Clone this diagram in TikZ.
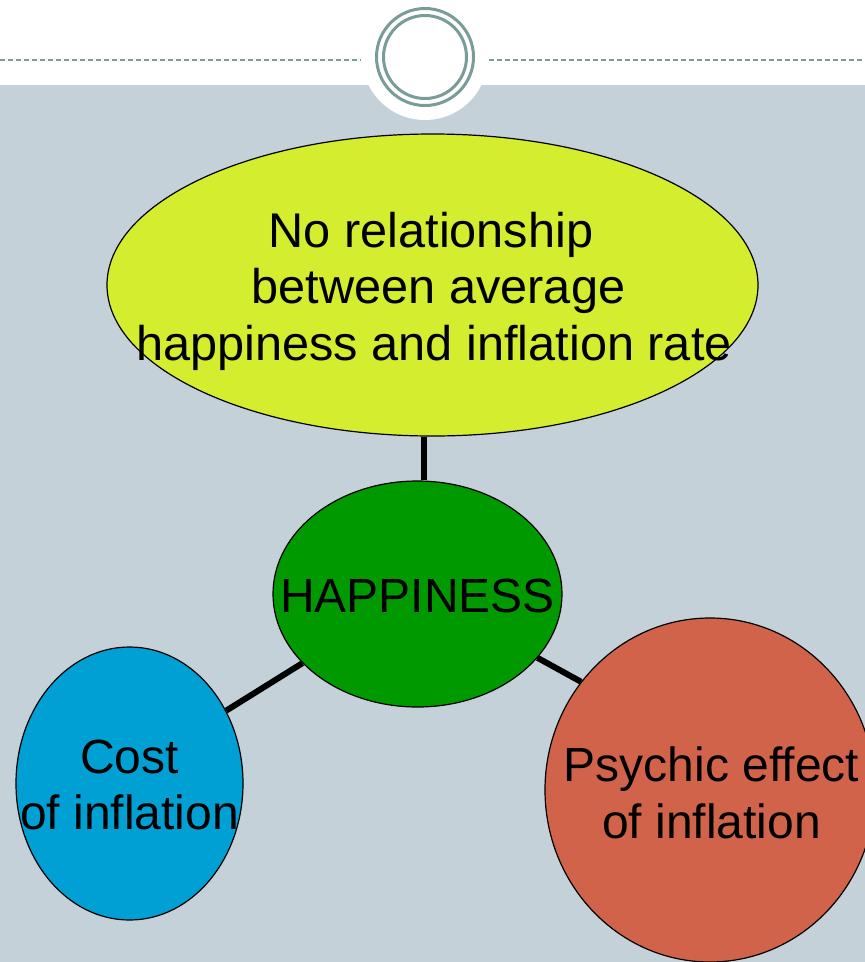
\documentclass[tikz,border=0pt]{standalone}
\usepackage{fontspec}
\setmainfont{Liberation Sans}
\usetikzlibrary{shapes.geometric}
\definecolor{slide}{HTML}{C5D1D8}
\definecolor{ringcol}{HTML}{7A9C98}
\definecolor{lime}{HTML}{D4EE2F}
\definecolor{leaf}{HTML}{009900}
\definecolor{sky}{HTML}{00A0D4}
\definecolor{brick}{HTML}{D1634A}
\begin{document}
\begin{tikzpicture}[x=1pt,y=-1pt,
  bubble/.style={ellipse, draw=black, line width=1.2pt, inner sep=0pt},
  caption/.style={inner sep=0pt, align=center, text=black,
    font=\fontsize{48}{56.5}\selectfont},
  link/.style={line width=6pt, draw=black},
  ornament/.style={draw=ringcol}]
\useasboundingbox (0,0) rectangle (865,962);
\clip (0,0) rectangle (865,962);
% slide background with the header band
\fill[white] (0,0) rectangle (865,85);
\fill[slide] (0,85) rectangle (865,962);
\fill[white] (425,57) circle (63pt);
% header rule and ring ornament
\coordinate (ruleLa) at (0,60);
\coordinate (ruleLb) at (361,60);
\coordinate (ruleRa) at (489,60);
\coordinate (ruleRb) at (865,60);
\draw[ornament, line width=2pt, dash pattern=on 5pt off 3pt] (ruleLa) -- (ruleLb);
\draw[ornament, line width=2pt, dash pattern=on 5pt off 3pt] (ruleRa) -- (ruleRb);
\coordinate (ringc) at (425,57);
\draw[ornament, line width=3pt] (ringc) circle (48.5pt);
\draw[ornament, line width=3pt] (ringc) circle (41.5pt);
% bubbles
\node[bubble, fill=lime, minimum width=651pt, minimum height=302pt] (top) at (432.5,285) {};
\node[bubble, fill=leaf, minimum width=289pt, minimum height=226pt] (hub) at (417.5,594) {};
\node[bubble, fill=sky, minimum width=227pt, minimum height=273pt] (cost) at (129.5,783.5) {};
\node[bubble, fill=brick, minimum width=330pt, minimum height=344pt] (psy) at (710,790) {};
% connectors
\draw[link] ([xshift=-8.5pt]top.south) -- ([xshift=6.5pt]hub.north);
\draw[link] (hub.211) -- (cost.37.8);
\draw[link] (hub.-28.4) -- (psy.140.5);
% labels
\node[caption, font=\fontsize{48.7}{56.5}\selectfont] (topText) at (434,291.3)
  {No relationship\hspace*{6pt}\\\hspace*{9pt}between average\\happiness and inflation rate};
\node[caption] (hubText) at (417.5,596) {HAPPINESS};
\node[caption] (costText) at (129.5,785) {Cost\\of inflation};
\node[caption] (psyText) at (711.5,793) {Psychic effect\\of inflation};
\end{tikzpicture}
\end{document}
